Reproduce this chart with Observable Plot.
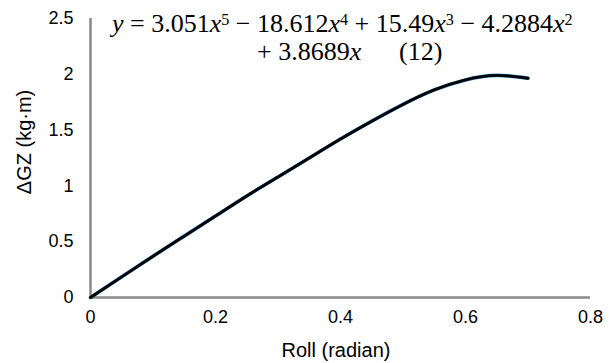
<!DOCTYPE html>
<html>
<head>
<meta charset="utf-8">
<script src="https://cdn.jsdelivr.net/npm/d3@7"></script>
<script src="https://cdn.jsdelivr.net/npm/@observablehq/plot@0.6"></script>
<style>
  html, body { margin: 0; padding: 0; background: #fff; }
  #wrap { position: relative; width: 611px; height: 363px; }
  #eq { position: absolute; left: 0; top: 0; width: 611px; font-family: "Liberation Serif", "Times New Roman", serif; font-size: 26px; line-height: 30px; color: #000; }
  #eq .l { position: absolute; white-space: nowrap; }
  #eq sup { font-size: 0.62em; line-height: 0; vertical-align: 0; position: relative; top: -0.42em; }
</style>
</head>
<body>
<div id="wrap"></div>
<script>
const roll = [0, 0.05, 0.1, 0.15, 0.2, 0.25, 0.3, 0.35, 0.4, 0.45, 0.5, 0.55, 0.6, 0.65, 0.7];
const gz   = [0, 0.185, 0.37, 0.55, 0.73, 0.91, 1.08, 1.25, 1.42, 1.58, 1.73, 1.86, 1.95, 1.99, 1.965];
const xTicks = [0, 0.2, 0.4, 0.6, 0.8];
const yTicks = [0, 0.5, 1, 1.5, 2, 2.5];
const xTitle = "Roll (radian)";
const yTitle = "ΔGZ (kg·m)";

const data = roll.map((r, i) => ({roll: r, gz: gz[i]}));
const axisColor = "#898989";

const chart = Plot.plot({
  width: 611,
  height: 363,
  marginLeft: 90,
  marginRight: 21,
  marginTop: 18,
  marginBottom: 66,
  style: {fontFamily: "'Liberation Sans', Arial, sans-serif", fontSize: "18px", color: "#000", background: "#fff"},
  x: {domain: [0, 0.8]},
  y: {domain: [0, 2.5]},
  marks: [
    Plot.axisX({ticks: xTicks, tickSize: 0, tickPadding: 13, tickFormat: d => String(d), label: null, fontSize: 18}),
    Plot.axisY({ticks: yTicks, tickSize: 0, tickPadding: 17, tickFormat: d => String(d), label: null, fontSize: 18}),
    Plot.ruleX([0], {stroke: axisColor, strokeWidth: 2.5}),
    Plot.ruleY([0], {stroke: axisColor, strokeWidth: 2.5}),
    Plot.line(data, {x: "roll", y: "gz", stroke: "#2e8bc8", strokeWidth: 3.6, curve: "natural"}),
    Plot.line(data, {x: "roll", y: "gz", stroke: "#000", strokeWidth: 2.9, curve: "natural"})
  ]
});
const wrap = document.getElementById("wrap");
wrap.appendChild(chart);

// axis titles
const svg = d3.select(chart);
svg.append("text")
  .attr("x", 336).attr("y", 357)
  .attr("text-anchor", "middle")
  .attr("font-size", 20)
  .attr("fill", "#000")
  .text(xTitle);
svg.append("text")
  .attr("transform", "translate(31,142) rotate(-90)")
  .attr("text-anchor", "middle")
  .attr("font-size", 20)
  .attr("fill", "#000")
  .text(yTitle);

const eq = document.createElement("div");
eq.id = "eq";
eq.innerHTML =
  '<div class="l" style="left:112px;top:9px"><i>y</i> = 3.051<i>x</i><sup>5</sup> − 18.612<i>x</i><sup>4</sup> + 15.49<i>x</i><sup>3</sup> − 4.2884<i>x</i><sup>2</sup></div>' +
  '<div class="l" style="left:257px;top:37px">+ 3.8689<i>x</i></div>' +
  '<div class="l" style="left:399px;top:37px">(12)</div>';
wrap.appendChild(eq);
</script>
</body>
</html>
